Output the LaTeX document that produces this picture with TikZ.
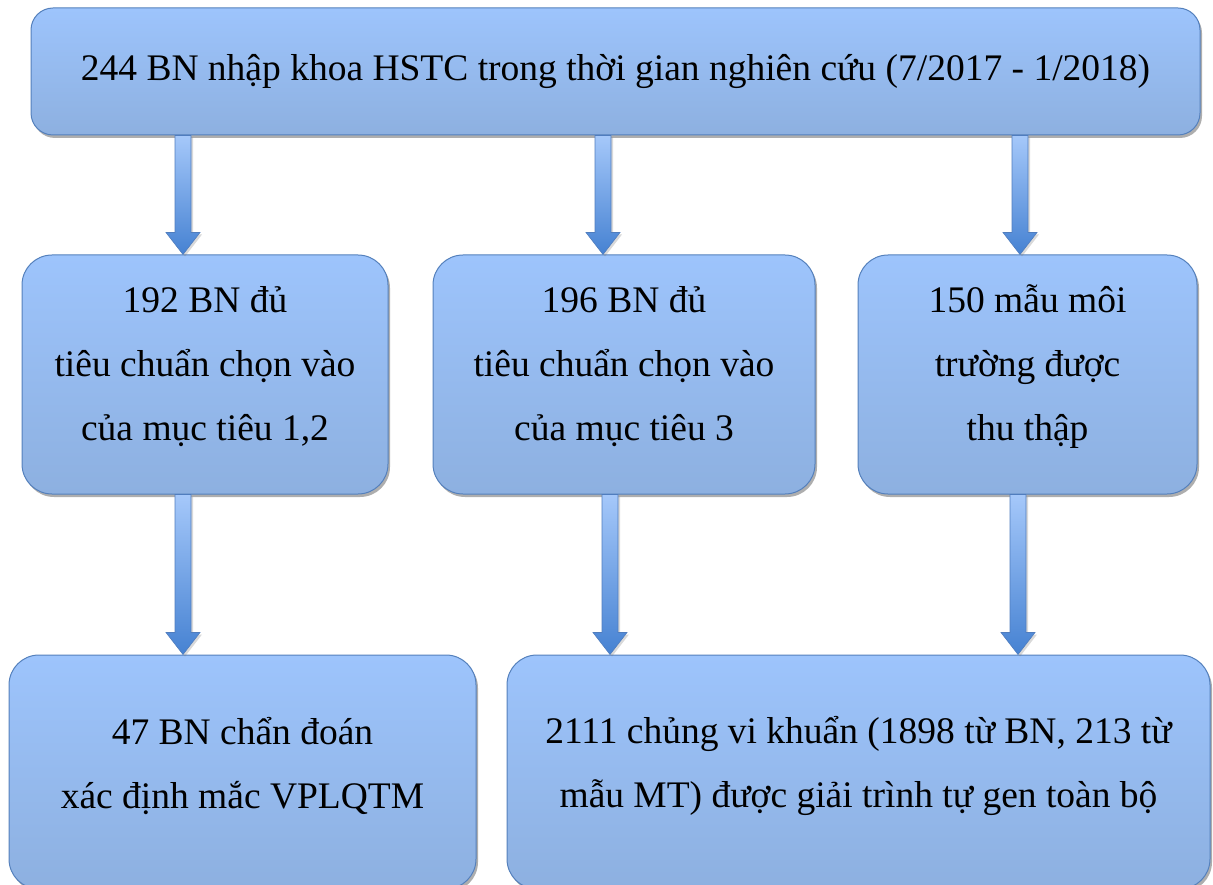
\documentclass[tikz,border=0pt]{standalone}
\usepackage{fontspec}
\setmainfont{Liberation Serif}
\usetikzlibrary{shadows,calc}
\definecolor{boxtop}{RGB}{157,196,252}
\definecolor{boxbot}{RGB}{141,176,224}
\definecolor{boxline}{RGB}{84,128,188}
\definecolor{arrtop}{RGB}{165,200,250}
\definecolor{arrbot}{RGB}{70,130,210}
\definecolor{arrline}{RGB}{80,125,190}
\tikzset{
  box/.style={rectangle, rounded corners=30pt, draw=boxline, line width=1pt,
    top color=boxtop, bottom color=boxbot, inner sep=0pt,
    drop shadow={shadow xshift=2pt, shadow yshift=-3pt, opacity=0.45, fill=black!70}},
  txt/.style={align=center, inner sep=0pt, font=\fontsize{37.5}{64}\selectfont},
  bigarrow/.style={top color=arrtop, bottom color=arrbot, draw=arrline, line width=0.6pt,
    drop shadow={shadow xshift=2pt, shadow yshift=-2pt, opacity=0.3}}
}
\newcommand{\fatarrow}[3]{%
  \path let \p1=(#1 |- #2.south), \p2=(#1 |- #3.north) in
    [bigarrow] (\x1-8pt,\y1) -- (\x1-8pt,\y2+22pt) -- (\x1-17pt,\y2+22pt) -- (\x1,\y2)
    -- (\x1+17pt,\y2+22pt) -- (\x1+8pt,\y2+22pt) -- (\x1+8pt,\y1) -- cycle;}
\begin{document}
\begin{tikzpicture}[x=1pt,y=1pt]
\useasboundingbox (0,0) rectangle (1213,-885);
\clip (0,0) rectangle (1213,-885);
\node[box, rounded corners=22pt, minimum width=1169pt, minimum height=127pt] (top) at (615.5,-71.5) {};
\node[box, minimum width=366pt, minimum height=239pt] (ml) at (205,-374.5) {};
\node[box, minimum width=382pt, minimum height=239pt] (mc) at (624,-374.5) {};
\node[box, minimum width=339pt, minimum height=239pt] (mr) at (1027.5,-374.5) {};
\node[box, minimum width=467pt, minimum height=234pt] (bl) at (242.5,-772) {};
\node[box, minimum width=703pt, minimum height=234pt] (br) at (858.5,-772) {};
\node[txt] (ttop) at (615.5,-72) {244 BN nhập khoa HSTC trong thời gian nghiên cứu (7/2017 - 1/2018)};
\node[txt] (tml) at (205,-367) {192 BN đủ\\tiêu chuẩn chọn vào\\của mục tiêu 1,2};
\node[txt] (tmc) at (624,-367) {196 BN đủ\\tiêu chuẩn chọn vào\\của mục tiêu 3};
\node[txt] (tmr) at (1027.5,-367) {150 mẫu môi\\trường được\\thu thập};
\node[txt] (tbl) at (242.5,-766) {47 BN chẩn đoán\\xác định mắc VPLQTM};
\node[txt] (tbr) at (858.5,-766) {2111 chủng vi khuẩn (1898 từ BN, 213 từ\\mẫu MT) được giải trình tự gen toàn bộ};
\coordinate (a1) at (183,0);
\coordinate (a2) at (603,0);
\coordinate (a3) at (1020,0);
\coordinate (b1) at (183,0);
\coordinate (b2) at (610,0);
\coordinate (b3) at (1018,0);
\fatarrow{a1}{top}{ml}
\fatarrow{a2}{top}{mc}
\fatarrow{a3}{top}{mr}
\fatarrow{b1}{ml}{bl}
\fatarrow{b2}{mc}{br}
\fatarrow{b3}{mr}{br}
\end{tikzpicture}
\end{document}
